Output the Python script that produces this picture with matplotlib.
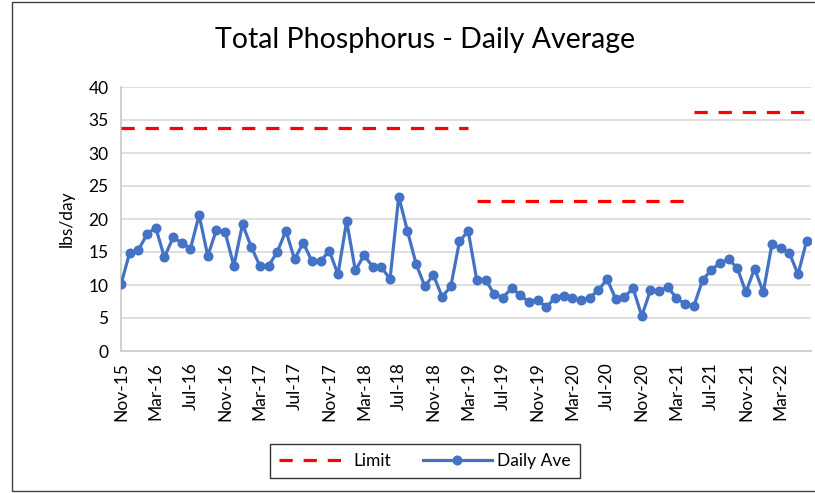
import matplotlib
matplotlib.use("Agg")
import matplotlib.pyplot as plt
from matplotlib.lines import Line2D
from matplotlib.patches import Rectangle

plt.rcParams['font.family'] = ['Lato', 'DejaVu Sans']

# Monthly daily-average values, Nov-15 .. Jun-22
daily_ave = [10.1, 14.9, 15.3, 17.7, 18.7, 14.2, 17.2, 16.4, 15.5, 20.6,
             14.4, 18.4, 18.0, 12.9, 19.2, 15.8, 12.9, 12.9, 15.0, 18.2,
             13.9, 16.4, 13.6, 13.6, 15.2, 11.6, 19.7, 12.2, 14.5, 12.8,
             12.7, 10.9, 23.4, 18.2, 13.2, 9.8, 11.5, 8.2, 9.8, 16.6,
             18.2, 10.7, 10.8, 8.6, 8.1, 9.5, 8.5, 7.4, 7.8, 6.6,
             8.1, 8.4, 8.0, 7.7, 8.1, 9.2, 10.9, 7.9, 8.2, 9.5,
             5.3, 9.2, 9.1, 9.7, 8.0, 7.1, 6.8, 10.7, 12.3, 13.3,
             13.9, 12.6, 8.9, 12.5, 8.9, 16.2, 15.6, 14.9, 11.6, 16.7]

# Limit periods: (first month index, last month index, limit value)
limit_start = [0, 41, 66]
limit_end = [40, 65, 79]
limit_value = [33.8, 22.7, 36.2]

tick_labels = ['Nov-15', 'Mar-16', 'Jul-16', 'Nov-16', 'Mar-17', 'Jul-17',
               'Nov-17', 'Mar-18', 'Jul-18', 'Nov-18', 'Mar-19', 'Jul-19',
               'Nov-19', 'Mar-20', 'Jul-20', 'Nov-20', 'Mar-21', 'Jul-21',
               'Nov-21', 'Mar-22']

W, H = 815, 493
fig = plt.figure(figsize=(W / 100, H / 100), dpi=100)
ax = fig.add_axes([121 / W, (H - 351) / H, 690 / W, 264 / H])

x = list(range(len(daily_ave)))
blue = '#4472C4'
red = '#FF0000'
dash = (4.15, 3.4)

for s, e, v in zip(limit_start, limit_end, limit_value):
    ax.plot([s, e], [v, v], color=red, lw=2.3, dashes=dash,
            solid_capstyle='butt', dash_capstyle='butt', zorder=3)

ax.plot(x, daily_ave, color=blue, lw=2.3, marker='o', markersize=6.2,
        markerfacecolor=blue, markeredgecolor=blue, zorder=4)

ax.set_xlim(0, 79.5)
ax.set_ylim(0, 40)
ax.set_yticks(range(0, 41, 5))
ax.set_xticks(range(0, 4 * len(tick_labels), 4))
ax.set_xticklabels(tick_labels, rotation=90)
ax.tick_params(axis='both', length=0, labelsize=12.5, labelcolor='#000000')
ax.tick_params(axis='x', pad=8)
ax.tick_params(axis='y', pad=9)
ax.grid(axis='y', color='#D9D9D9', lw=1.2)
ax.set_axisbelow(True)
for side in ['top', 'right']:
    ax.spines[side].set_visible(False)
for side in ['left', 'bottom']:
    ax.spines[side].set_color('#D0D0D0')
    ax.spines[side].set_linewidth(1.4)

ax.set_ylabel('lbs/day', fontsize=12.5, labelpad=10)
fig.text(425 / W, 1 - 40 / H, 'Total Phosphorus - Daily Average',
         ha='center', va='center', fontsize=20.5)

handles = [Line2D([], [], color=red, lw=2.3, dashes=dash),
           Line2D([], [], color=blue, lw=2.3, marker='o', markersize=6.2)]
leg = fig.legend(handles, ['Limit', 'Daily Ave'], loc='center',
                 bbox_to_anchor=(425 / W, 1 - 461 / H), ncol=2, fontsize=12.5,
                 frameon=True, fancybox=False, edgecolor='#000000',
                 handlelength=4, handletextpad=0.3, columnspacing=1.8,
                 borderpad=0.5)
leg.get_frame().set_linewidth(1)

fig.patches.append(Rectangle((12 / W, 2 / H), (W + 20) / W, (H - 4) / H,
                             transform=fig.transFigure, fill=False,
                             edgecolor='#404040', lw=1))

fig.savefig('out.png', dpi=100)
